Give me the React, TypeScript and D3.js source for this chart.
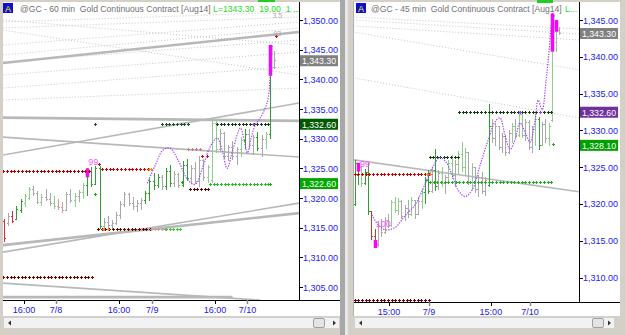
import React from 'react';
import * as d3 from 'd3';

type Bar = [number, number, number, number, string];
type Trend = [number, number, number, number, string];
type DotRow = [number, number, number, string];
type Paint = [number, number, number];

// ---------- LEFT (60 min) DATA ----------
const LEFT_BARS: Bar[] = [
  [1316.2, 1316.5, 1312.6, 1313.2, 'r'], [1315.8, 1317.4, 1315.4, 1317.0, 'n'], [1317.0, 1317.8, 1315.8, 1316.2, 'r'],
  [1316.5, 1318.6, 1316.3, 1318.2, 'g'], [1318.0, 1319.8, 1317.6, 1319.5, 'g'], [1319.2, 1320.6, 1318.6, 1320.3, 'l'],
  [1320.0, 1321.9, 1319.8, 1321.6, 'l'], [1321.5, 1322.1, 1320.4, 1320.8, 'n'], [1320.8, 1321.2, 1319.0, 1319.4, 'n'],
  [1319.4, 1320.6, 1318.8, 1320.2, 'l'], [1320.2, 1321.6, 1319.5, 1319.8, 'n'], [1319.8, 1320.8, 1318.8, 1319.2, 'n'],
  [1319.2, 1320.3, 1318.2, 1318.6, 'l'], [1318.6, 1319.9, 1318.0, 1318.4, 'p'], [1318.4, 1319.4, 1317.5, 1318.0, 'p'],
  [1318.0, 1321.0, 1317.9, 1320.6, 'n'], [1320.6, 1321.6, 1319.2, 1319.6, 'n'], [1319.6, 1320.8, 1318.5, 1320.4, 'l'],
  [1320.4, 1321.3, 1319.4, 1321.0, 'n'], [1321.0, 1322.6, 1320.0, 1322.2, 'l'], [1322.2, 1325.0, 1320.5, 1324.6, 'g'],
  [1324.6, 1325.2, 1322.0, 1322.4, 'g'], [1322.4, 1325.4, 1322.3, 1325.0, 'g'], [1325.0, 1325.4, 1314.8, 1315.2, 'g'],
  [1315.2, 1316.6, 1314.5, 1316.0, 'n'], [1316.0, 1317.0, 1315.0, 1315.4, 'n'], [1315.4, 1316.3, 1314.7, 1315.8, 'n'],
  [1315.8, 1317.6, 1315.5, 1317.2, 'n'], [1317.2, 1319.5, 1316.6, 1319.0, 'n'], [1319.0, 1321.0, 1318.5, 1320.6, 'n'],
  [1320.6, 1320.8, 1318.8, 1319.2, 'n'], [1319.2, 1320.2, 1318.0, 1318.6, 'n'], [1318.6, 1319.6, 1317.8, 1319.2, 'n'],
  [1319.2, 1320.0, 1318.0, 1319.6, 'n'], [1319.6, 1321.2, 1319.0, 1320.8, 'g'], [1320.8, 1323.2, 1319.6, 1322.8, 'g'],
  [1322.8, 1324.2, 1321.5, 1322.2, 'g'], [1322.2, 1324.0, 1321.8, 1323.6, 'g'], [1323.6, 1323.8, 1321.5, 1322.0, 'n'],
  [1322.0, 1325.0, 1321.5, 1324.6, 'g'], [1324.6, 1325.6, 1322.0, 1322.6, 'g'], [1322.6, 1324.6, 1322.0, 1324.0, 'n'],
  [1324.0, 1324.2, 1321.8, 1322.2, 'n'], [1322.2, 1326.2, 1322.0, 1325.6, 'g'], [1325.6, 1326.6, 1323.0, 1323.4, 'g'],
  [1323.4, 1325.6, 1322.6, 1325.0, 'n'], [1325.0, 1326.0, 1322.4, 1322.8, 'n'], [1322.8, 1327.0, 1322.0, 1326.4, 'n'],
  [1326.4, 1326.6, 1323.0, 1323.6, 'n'], [1323.6, 1325.6, 1322.6, 1325.2, 'l'], [1323.0, 1333.2, 1322.6, 1332.6, 'l'],
  [1332.6, 1333.0, 1327.6, 1328.2, 'l'], [1328.2, 1331.6, 1328.0, 1331.0, 'n'], [1331.0, 1331.2, 1326.6, 1327.0, 'n'],
  [1327.0, 1329.0, 1326.4, 1328.6, 'n'], [1328.6, 1329.6, 1326.5, 1327.0, 'n'], [1327.0, 1328.6, 1325.6, 1328.2, 'n'],
  [1328.2, 1330.2, 1327.0, 1329.8, 'l'], [1329.8, 1331.6, 1328.4, 1330.8, 'g'], [1330.8, 1331.6, 1328.4, 1329.0, 'n'],
  [1329.0, 1330.6, 1327.4, 1330.2, 'n'], [1330.2, 1331.2, 1328.0, 1328.4, 'g'], [1328.4, 1330.6, 1327.0, 1330.0, 'n'],
  [1330.0, 1331.2, 1328.4, 1330.8, 'l'], [1330.8, 1345.8, 1330.0, 1341.0, 'g'], [1342.0, 1344.8, 1341.8, 1343.3, 'n'],
];
const LEFT_Y_TICKS = [1305, 1310, 1315, 1320, 1325, 1330, 1335, 1340, 1345, 1350];
const LEFT_TIME_POS = [4.8, 12.5, 27.7, 35.7, 50.8, 58.6];
const LEFT_TIME_LABELS = ['16:00', '7/8', '16:00', '7/9', '16:00', '7/10'];
const LEFT_TRENDS: Trend[] = [
  [-0.3, 1349.66, 71, 1351.35, 'dot'], [-0.3, 1348.65, 71, 1350.5, 'dot'], [-0.3, 1345.78, 71, 1349.66, 'dot'],
  [-0.3, 1344.1, 71, 1348.65, 'dot'], [-0.3, 1342.92, 71, 1346.63, 'dot'], [-0.3, 1340.73, 71, 1344.6, 'dot'],
  [-0.3, 1338.53, 71, 1342.24, 'dot'], [-0.3, 1336.51, 71, 1338.53, 'dot'], [-0.3, 1350.0, 71, 1345.78, 'dot'],
  [-0.3, 1348.31, 71, 1340.73, 'dot'],
  [-0.3, 1342.75, 71, 1347.98, 'thick'], [-0.3, 1333.55, 71, 1333.0, 'thick'], [-0.3, 1327.23, 71, 1336.0, 'mid'],
  [-0.3, 1330.27, 71, 1326.9, 'mid'], [-0.3, 1312.06, 71, 1317.45, 'thick'], [-0.3, 1310.88, 71, 1319.14, 'mid'],
  [-0.3, 1305.65, 61.7, 1302.78, 'mid'], [-0.3, 1303.3, 55, 1303.3, 'thick'],
];
const LEFT_DOTS: DotRow[] = [
  [-0.2, 20.5, 1324.54, '#aa0000'], [23.6, 34.6, 1324.87, '#cc0000'], [34.8, 35.4, 1324.87, '#ff8800'],
  [22.6, 35.2, 1314.76, '#700000'], [23.8, 25.0, 1314.76, '#ff8800'], [35.4, 38.8, 1314.76, '#c8a0a0'],
  [39.0, 42.4, 1314.76, '#33cc33'], [-0.2, 21.2, 1306.66, '#700000'], [38.0, 44.3, 1332.46, '#205020'],
  [21.9, 21.9, 1332.46, '#205020'], [51.3, 63.6, 1332.46, '#104010'], [49.6, 63.6, 1322.34, '#22bb22'],
  [44.8, 49.2, 1321.5, '#600000'], [47.7, 48.9, 1327.07, '#dd0000'], [44.3, 47.2, 1328.25, '#c08080'],
  [21.9, 21.9, 1320.66, '#00bb00'], [42.9, 42.9, 1322.68, '#00bb00'], [64.1, 64.1, 1322.34, '#00bb00'],
  [22.9, 22.9, 1325.7, '#cc0000'], [60, 60, 1332.46, '#9933ff'], [65.5, 65.5, 1347.3, '#dd0000'],
];
const LEFT_PAINT: Paint[] = [[20, 1325.0, 1323.5], [64, 1345.8, 1340.6]];
const LEFT_CURVE: [number, number][] = [
  [34.5, 1322.5], [36.4, 1325.5], [38.3, 1328.1], [40.0, 1328.4], [41.9, 1326.4], [44.3, 1323.0], [46.0, 1322.3],
  [48.0, 1325.5], [49.6, 1328.6], [51.3, 1330.1], [52.5, 1328.1], [53.7, 1325.0], [55.2, 1328.4], [56.9, 1331.8],
  [57.8, 1329.8], [58.6, 1327.6], [59.5, 1330.1], [60.5, 1332.3], [61.7, 1333.5], [62.9, 1335.2], [63.6, 1336.8],
  [64.1, 1340.7], [64.6, 1345.8],
];
const LEFT_MARKERS: [number, string][] = [[1343.3, '#808080'], [1332.6, '#005a00'], [1322.6, '#00a800']];
const LEFT_NOTES: [number, number, string, string][] = [[21.5, 1325.6, '99', '#ff55ff'], [65.8, 1350.3, '3.5', '#aaaaaa'], [65.8, 1347.3, '93', '#aaaaaa']];

// ---------- RIGHT (45 min) DATA ----------
const RIGHT_BARS: Bar[] = [
  [1320.0, 1326.0, 1319.8, 1325.6, 'g'], [1324.0, 1325.6, 1322.6, 1325.0, 'g'], [1325.0, 1325.2, 1322.4, 1322.8, 'l'],
  [1322.8, 1324.8, 1322.6, 1324.4, 'g'], [1324.4, 1325.6, 1318.6, 1319.0, 'g'], [1319.0, 1319.0, 1315.2, 1315.6, 'r'],
  [1315.6, 1316.6, 1314.2, 1314.6, 'r'], [1314.6, 1317.4, 1314.2, 1317.0, 'p'], [1317.0, 1318.0, 1315.6, 1316.2, 'n'],
  [1316.2, 1318.2, 1316.0, 1317.8, 'n'], [1317.8, 1318.6, 1316.8, 1317.2, 'n'], [1317.2, 1320.6, 1317.0, 1320.2, 'l'],
  [1320.2, 1321.0, 1318.8, 1319.2, 'l'], [1319.2, 1320.8, 1318.6, 1320.4, 'l'], [1320.4, 1320.6, 1318.0, 1318.4, 'n'],
  [1318.4, 1319.8, 1317.8, 1319.4, 'n'], [1319.4, 1320.6, 1318.2, 1318.6, 'n'], [1318.6, 1321.0, 1318.4, 1320.6, 'l'],
  [1320.6, 1320.6, 1318.0, 1318.6, 'n'], [1318.6, 1321.0, 1318.6, 1320.4, 'n'], [1320.4, 1322.0, 1319.4, 1321.6, 'l'],
  [1321.6, 1323.6, 1320.0, 1323.2, 'g'], [1323.2, 1324.6, 1321.4, 1321.8, 'g'], [1321.8, 1325.0, 1321.6, 1324.6, 'n'],
  [1324.6, 1327.4, 1321.8, 1322.4, 'g'], [1322.4, 1324.6, 1322.0, 1324.2, 'n'], [1324.2, 1325.0, 1322.4, 1322.8, 'l'],
  [1322.8, 1324.0, 1321.4, 1323.6, 'n'], [1323.6, 1326.0, 1323.0, 1325.6, 'l'], [1325.6, 1326.6, 1323.4, 1324.0, 'l'],
  [1324.0, 1326.0, 1322.4, 1325.4, 'n'], [1325.4, 1327.2, 1324.0, 1326.8, 'l'], [1326.8, 1328.4, 1324.4, 1325.0, 'l'],
  [1325.0, 1327.6, 1324.0, 1327.0, 'l'], [1327.0, 1327.0, 1322.6, 1323.0, 'n'], [1323.0, 1325.6, 1322.0, 1325.0, 'l'],
  [1325.0, 1325.0, 1321.6, 1322.0, 'n'], [1322.0, 1324.0, 1321.0, 1323.6, 'n'], [1323.6, 1324.4, 1321.4, 1321.8, 'n'],
  [1321.8, 1323.6, 1321.2, 1323.2, 'n'], [1322.6, 1333.6, 1322.4, 1330.6, 'g'], [1330.6, 1331.6, 1328.4, 1329.0, 'n'],
  [1329.0, 1331.0, 1328.0, 1330.6, 'n'], [1330.6, 1330.6, 1327.4, 1327.8, 'n'], [1327.8, 1329.6, 1327.0, 1329.2, 'n'],
  [1329.2, 1329.4, 1326.6, 1327.0, 'n'], [1327.0, 1330.0, 1326.8, 1329.6, 'n'], [1329.6, 1331.0, 1328.4, 1330.6, 'l'],
  [1330.6, 1331.6, 1329.0, 1329.4, 'n'], [1329.4, 1332.6, 1329.2, 1332.2, 'l'], [1332.2, 1332.4, 1329.0, 1329.4, 'l'],
  [1329.4, 1331.6, 1328.6, 1331.2, 'n'], [1331.2, 1331.4, 1327.4, 1327.8, 'n'], [1327.8, 1330.6, 1327.0, 1330.2, 'n'],
  [1330.2, 1332.2, 1328.0, 1331.6, 'l'], [1331.6, 1331.8, 1327.4, 1328.0, 'g'], [1328.0, 1331.2, 1328.0, 1330.8, 'n'],
  [1330.8, 1331.6, 1328.4, 1329.0, 'n'], [1329.0, 1331.0, 1328.0, 1330.6, 'l'], [1331.4, 1345.9, 1331.2, 1342.0, 'l'],
  [1342.0, 1345.0, 1340.7, 1344.0, 'l'], [1343.6, 1344.0, 1343.0, 1343.3, 'n'],
];
const RIGHT_Y_TICKS = [1310, 1315, 1320, 1325, 1330, 1335, 1340, 1345];
const RIGHT_TIME_POS = [10.3, 22.2, 40.7, 52.4];
const RIGHT_TIME_LABELS = ['15:00', '7/9', '15:00', '7/10'];
const RIGHT_TRENDS: Trend[] = [
  [-0.3, 1345.41, 67, 1343.78, 'dot'], [-0.3, 1345.0, 67, 1343.1, 'dot'], [-0.3, 1344.19, 67, 1342.29, 'dot'],
  [-0.3, 1343.37, 67, 1338.22, 'dot'], [-0.3, 1337.13, 67, 1331.7, 'dot'],
  [-0.3, 1326.0, 67, 1321.66, 'mid'],
];
const RIGHT_DOTS: DotRow[] = [
  [31.2, 58.7, 1332.52, '#104010'], [22.5, 30.9, 1326.41, '#104010'], [22.5, 58.7, 1323.02, '#22aa22'],
  [0, 22.2, 1324.1, '#cc0000'], [21.5, 22.5, 1324.1, '#ff8800'], [0, 22.2, 1307.0, '#700000'],
  [59.3, 59.7, 1328.17, '#22aa22'], [49.5, 49.5, 1332.52, '#9933ff'], [55.5, 55.5, 1332.52, '#9933ff'],
];
const RIGHT_PAINT: Paint[] = [[1, 1325.6, 1324.4], [6, 1315.1, 1314.0], [59, 1345.9, 1340.7], [60, 1345.0, 1343.4]];
const RIGHT_CURVE: [number, number][] = [
  [5.2, 1318.5], [7.0, 1317.2], [9.1, 1316.5], [12.1, 1316.8], [15.1, 1318.4], [18.1, 1319.9], [20.1, 1321.7],
  [21.9, 1323.6], [23.7, 1325.3], [25.5, 1326.3], [27.3, 1325.7], [29.1, 1324.0], [30.9, 1321.9], [33.0, 1321.0],
  [35.1, 1321.9], [37.5, 1325.3], [39.9, 1328.7], [42.0, 1331.2], [43.4, 1331.7], [44.9, 1329.4], [46.4, 1327.4],
  [47.9, 1328.7], [49.4, 1331.0], [51.2, 1329.4], [52.4, 1328.4], [53.9, 1331.4], [54.8, 1334.1], [56.0, 1332.8],
  [57.2, 1336.9], [58.1, 1340.9], [59.0, 1345.0], [59.9, 1345.7],
];
const RIGHT_MARKERS: [number, string][] = [[1343.3, '#808080'], [1332.6, '#7030a0'], [1328.1, '#00a000']];
const RIGHT_NOTES: [number, number, string, string][] = [[3.1, 1325.05, '99', '#ff55ff'], [8.6, 1316.9, '100', '#ff55ff']];

const COLORS: Record<string, string> = { g: '#2e9e2e', l: '#8fcc8f', n: '#a8a8a8', r: '#cc3333', p: '#c8a0a0' };
const FONT = "'Liberation Sans', Arial, sans-serif";

interface Cfg {
  id: string; px0: number; px1: number; py0: number; py1: number; axisEnd: number;
  xd: [number, number]; xr: [number, number]; yd: [number, number]; yr: [number, number];
  title: string; titleX: number; greenText: string; greenX: number; iconX: number;
  scroll: [number, number]; thumbX: number; paintW: number;
}

function Panel(props: {
  cfg: Cfg; bars: Bar[]; yTicks: number[]; timePos: number[]; timeLabels: string[]; trends: Trend[];
  dots: DotRow[]; paint: Paint[]; curve: [number, number][]; markers: [number, string][]; notes: [number, number, string, string][];
}) {
  const { cfg, bars, yTicks, timePos, timeLabels, trends, dots, paint, curve, markers, notes } = props;
  const x = d3.scaleLinear().domain(cfg.xd).range(cfg.xr);
  const y = d3.scaleLinear().domain(cfg.yd).range(cfg.yr);
  const line = d3.line<[number, number]>().x(d => x(d[0])).y(d => y(d[1])).curve(d3.curveCatmullRom.alpha(0.5));
  const clip = `clip-${cfg.id}`;
  const fmt = d3.format(',.2f');
  const plusMarks: JSX.Element[] = [];
  dots.forEach((r, k) => {
    const xa = x(r[0]), xb = x(r[1]);
    const n = Math.max(1, Math.round((xb - xa) / 3.7) + 1);
    const step = n > 1 ? (xb - xa) / (n - 1) : 0;
    const yy = Math.round(y(r[2]));
    for (let j = 0; j < n; j++) {
      const xx = Math.round(xa + j * step);
      plusMarks.push(
        <g key={`${k}-${j}`} fill={r[3]}>
          <rect x={xx - 1} y={yy} width={3} height={1} />
          <rect x={xx} y={yy - 1} width={1} height={3} />
        </g>
      );
    }
  });
  const sy = 317;
  return (
    <g>
      <defs>
        <clipPath id={clip}><rect x={cfg.px0} y={cfg.py0} width={cfg.px1 - cfg.px0} height={cfg.py1 - cfg.py0} /></clipPath>
      </defs>
      <g clipPath={`url(#${clip})`}>
        {trends.map((t, k) => (
          <line key={k} x1={x(t[0])} y1={y(t[1])} x2={x(t[2])} y2={y(t[3])}
            stroke={t[4] === 'dot' ? '#c6c6c6' : '#b8b8b8'}
            strokeWidth={t[4] === 'thick' ? 2.6 : t[4] === 'mid' ? 1.6 : 1}
            strokeDasharray={t[4] === 'dot' ? '1,2' : undefined} />
        ))}
        {bars.map((b, i) => {
          const xx = Math.round(x(i)) + 0.5;
          const c = COLORS[b[4]];
          return (
            <g key={i} stroke={c} strokeWidth={1} shapeRendering="crispEdges">
              <line x1={xx} x2={xx} y1={y(b[1])} y2={y(b[2]) + 0.5} />
              <line x1={xx - 1.5} x2={xx} y1={Math.round(y(b[0])) + 0.5} y2={Math.round(y(b[0])) + 0.5} />
              <line x1={xx} x2={xx + 1.5} y1={Math.round(y(b[3])) + 0.5} y2={Math.round(y(b[3])) + 0.5} />
            </g>
          );
        })}
        {paint.map((p, k) => (
          <rect key={k} x={Math.round(x(p[0])) - cfg.paintW / 2 + 0.5} y={y(p[1])} width={cfg.paintW} height={y(p[2]) - y(p[1])} fill="#ff00ff" />
        ))}
        {plusMarks}
        <path d={line(curve) || ''} fill="none" stroke="#a040ff" strokeWidth={1.2} strokeDasharray="1.3,1.3" />
        {notes.map((n, k) => (
          <text key={k} x={x(n[0])} y={y(n[1])} fontSize={n[3] === '#aaaaaa' ? 7 : 9} fill={n[3]} textAnchor="middle" fontFamily={FONT}>{n[2]}</text>
        ))}
        <text x={cfg.greenX} y={11.5} fontSize={8.7} fill="#22dd22" fontFamily={FONT} style={{ whiteSpace: 'pre' }}>{cfg.greenText}</text>
      </g>
      {/* title */}
      <rect x={cfg.iconX} y={3} width={10} height={10} fill="#1010c8" />
      <text x={cfg.iconX + 5} y={11.5} fontSize={9} fill="#ffee00" textAnchor="middle" fontFamily={FONT}>A</text>
      <text x={cfg.titleX} y={11.5} fontSize={8.6} fill="#707070" fontFamily={FONT} style={{ whiteSpace: 'pre' }}>{cfg.title}</text>
      {/* axes */}
      <line x1={cfg.px1 + 0.5} x2={cfg.px1 + 0.5} y1={2} y2={cfg.py1} stroke="#000" />
      <line x1={cfg.px0} x2={cfg.axisEnd} y1={cfg.py1 + 0.5} y2={cfg.py1 + 0.5} stroke="#000" />
      {yTicks.map(t => (
        <g key={t}>
          <line x1={cfg.px1 + 1} x2={cfg.px1 + 4} y1={Math.round(y(t)) + 0.5} y2={Math.round(y(t)) + 0.5} stroke="#000" />
          <text x={cfg.px1 + 4} y={y(t) + 3.5} fontSize={9} fill="#2020ee" fontFamily={FONT}>{fmt(t)}</text>
        </g>
      ))}
      {markers.map((m, k) => (
        <g key={k}>
          <rect x={cfg.px1 + 1} y={y(m[0]) - 4.5} width={38} height={11} fill={m[1]} />
          <text x={cfg.px1 + 20} y={y(m[0]) + 4.5} fontSize={8.8} fill="#ffffff" fontFamily={FONT} textAnchor="middle">{fmt(m[0])}</text>
        </g>
      ))}
      {timePos.map((p, k) => (
        <g key={k}>
          <line x1={Math.round(x(p)) + 0.5} x2={Math.round(x(p)) + 0.5} y1={cfg.py1} y2={cfg.py1 + 4} stroke={k % 2 === 1 ? '#888' : '#000'} strokeWidth={k % 2 === 1 ? 1.5 : 1} />
          <text x={x(p)} y={cfg.py1 + 13} fontSize={9} fill="#2020ee" textAnchor="middle" fontFamily={FONT}>{timeLabels[k]}</text>
        </g>
      ))}
      {/* scrollbar */}
      <rect x={cfg.scroll[0] + 0.5} y={sy + 0.5} width={cfg.scroll[1] - cfg.scroll[0]} height={11} fill="#f2f2f2" stroke="#d0d0d0" />
      <path d={`M${cfg.scroll[0] + 5},${sy + 6} l3,-2.5 v5 z`} fill="#333" />
      <rect x={cfg.thumbX + 0.5} y={sy + 1.5} width={11} height={9} rx={1.5} fill="#e4e4e4" stroke="#a0a0a0" />
      <path d={`M${cfg.scroll[1] - 6},${sy + 3.5} l3,2.5 l-3,2.5 z`} fill="#333" />
    </g>
  );
}

const LEFT_CFG: Cfg = {
  id: 'l', px0: 3, px1: 299, py0: 2, py1: 300, axisEnd: 340, xd: [0, 65], xr: [4, 274], yd: [1305, 1350], yr: [287, 20],
  title: '@GC - 60 min  Gold Continuous Contract [Aug14]', titleX: 20, greenText: 'L=1343.30  19.00  1 ...',
  greenX: 213, iconX: 3, scroll: [3, 339], thumbX: 313, paintW: 3.5,
};
const RIGHT_CFG: Cfg = {
  id: 'r', px0: 354, px1: 579, py0: 3, py1: 302, axisEnd: 620, xd: [0, 61], xr: [354.5, 558.9], yd: [1310, 1345], yr: [277.5, 20],
  title: '@GC - 45 min  Gold Continuous Contract [Aug14]', titleX: 371, greenText: 'L...',
  greenX: 565, iconX: 356, scroll: [354, 614], thumbX: 592, paintW: 3.5,
};

export default function App() {
  return (
    <svg width={625} height={335} style={{ position: 'fixed', left: 0, top: 0, display: 'block' }}>
      <rect width={625} height={335} fill="#d4d0c8" />
      <rect x={3} y={2} width={337} height={314} fill="#ffffff" />
      <rect x={340} y={0} width={5} height={335} fill="#a8a8a8" />
      <rect x={345} y={0} width={3} height={335} fill="#e8e8e8" />
      <rect x={353} y={2} width={267} height={314} fill="#ffffff" />
      <line x1={353.5} x2={353.5} y1={2} y2={316} stroke="#b0b0b0" />
      <rect x={258} y={0} width={17} height={2} fill="#22cc22" />
      <rect x={537} y={0} width={16} height={3} fill="#22cc22" />
      <Panel cfg={LEFT_CFG} bars={LEFT_BARS} yTicks={LEFT_Y_TICKS} timePos={LEFT_TIME_POS} timeLabels={LEFT_TIME_LABELS}
        trends={LEFT_TRENDS} dots={LEFT_DOTS} paint={LEFT_PAINT} curve={LEFT_CURVE} markers={LEFT_MARKERS} notes={LEFT_NOTES} />
      <Panel cfg={RIGHT_CFG} bars={RIGHT_BARS} yTicks={RIGHT_Y_TICKS} timePos={RIGHT_TIME_POS} timeLabels={RIGHT_TIME_LABELS}
        trends={RIGHT_TRENDS} dots={RIGHT_DOTS} paint={RIGHT_PAINT} curve={RIGHT_CURVE} markers={RIGHT_MARKERS} notes={RIGHT_NOTES} />
    </svg>
  );
}
